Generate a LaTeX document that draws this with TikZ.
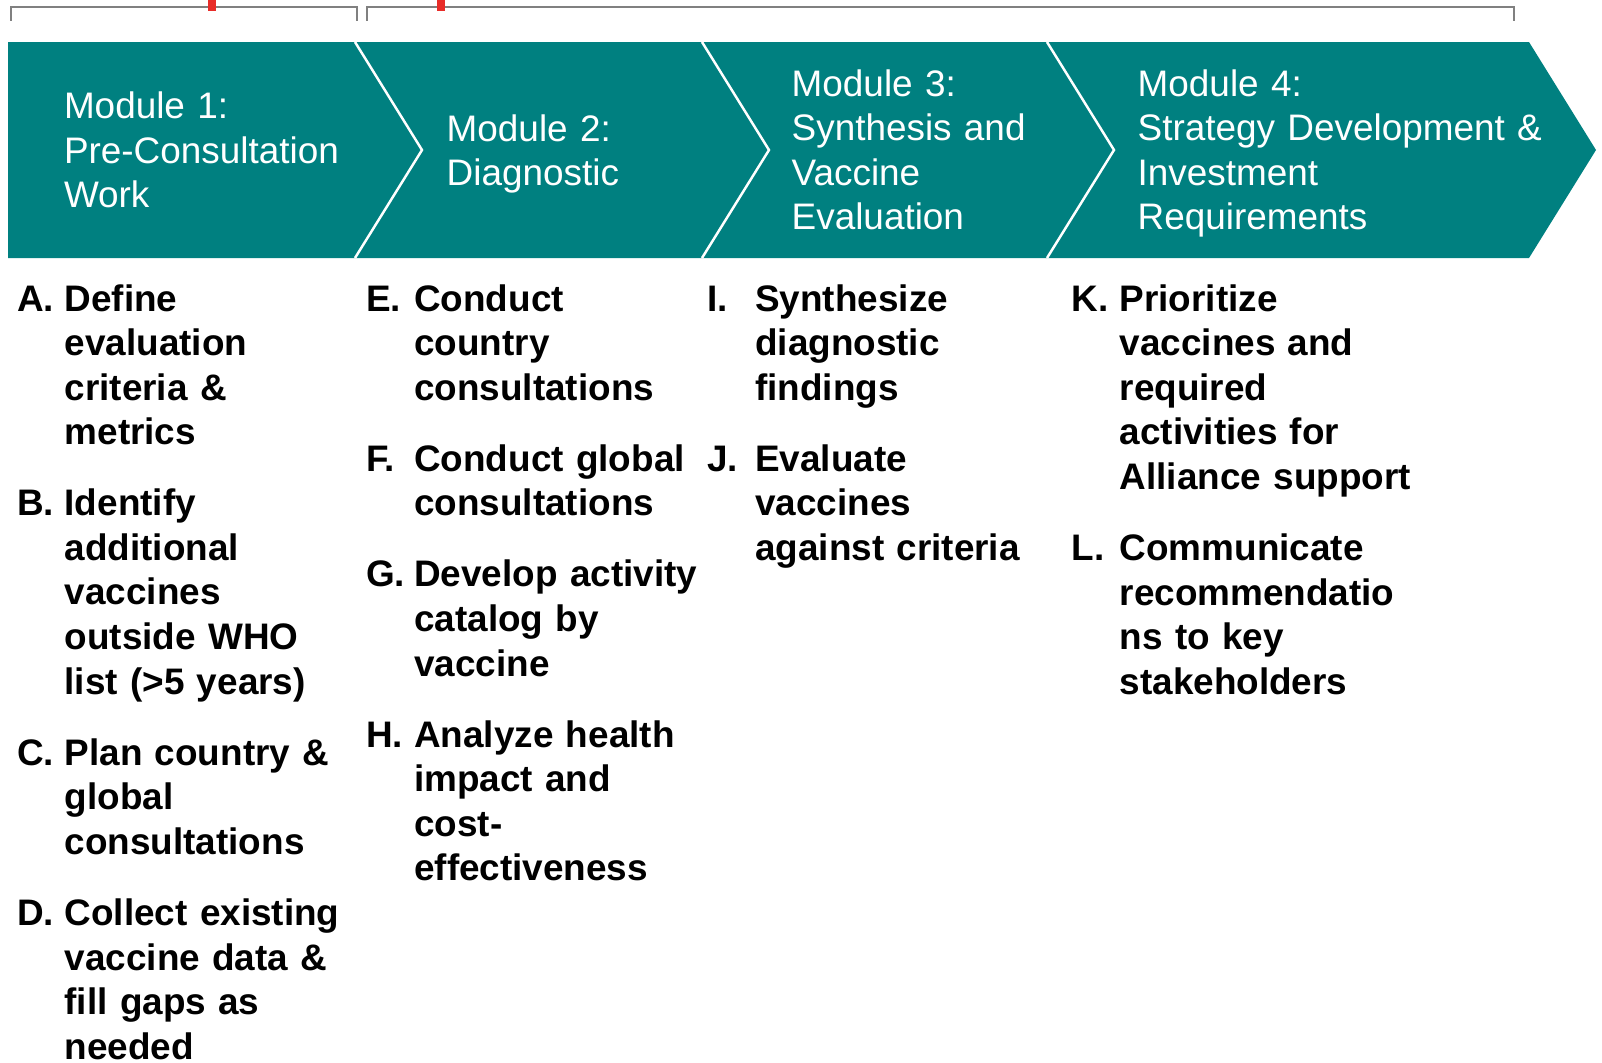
\documentclass[tikz,border=0pt]{standalone}
\usepackage{fontspec}
\setmainfont{Liberation Sans}
\definecolor{modteal}{RGB}{0,128,128}
\definecolor{markred}{RGB}{232,44,40}
\tikzset{
  module/.style={anchor=base west,inner sep=0,text=white,align=left,text width=4.4cm,
    font=\fontsize{10.5pt}{12.7pt}\selectfont},
  task/.style={anchor=base west,inner sep=0,align=left,text width=3.4cm,
    font=\fontsize{10.5pt}{12.7pt}\selectfont\bfseries},
  tasklabel/.style={anchor=base west,inner sep=0,font=\fontsize{10.5pt}{12.7pt}\selectfont\bfseries},
  bracket/.style={draw=gray,line width=0.6pt},
  sep/.style={draw=white,line width=0.7pt}
}
\begin{document}
\begin{tikzpicture}
\useasboundingbox (0,0) rectangle (16.02,-10.62);

% brackets over the modules
\path[bracket] (0.11,-0.207) -- (0.11,-0.073) -- (3.57,-0.073) -- (3.57,-0.207);
\path[bracket] (3.67,-0.207) -- (3.67,-0.073) -- (15.14,-0.073) -- (15.14,-0.207);
\draw[markred,line width=2pt] (2.12,0) -- (2.12,-0.11);
\draw[markred,line width=2pt] (4.41,0) -- (4.41,-0.11);

% chevron band
\fill[modteal] (0.08,-0.42) -- (15.29,-0.42) -- (15.29+0.67,-1.50) -- (15.29,-2.58) -- (0.08,-2.58) -- cycle;
\path[sep] (3.55,-0.42) -- (3.55+0.67,-1.50) -- (3.55,-2.58);
\path[sep] (7.02,-0.42) -- (7.02+0.67,-1.50) -- (7.02,-2.58);
\path[sep] (10.47,-0.42) -- (10.47+0.67,-1.50) -- (10.47,-2.58);

\node[module] (m1) at (0.633,-1.185) {Module 1:\\Pre-Consultation\\Work};
\node[module] (m2) at (4.46,-1.41) {Module 2:\\Diagnostic};
\node[module] (m3) at (7.91,-0.96) {Module 3:\\Synthesis and\\Vaccine\\Evaluation};
\node[module] (m4) at (11.37,-0.96) {Module 4:\\Strategy Development \&\\Investment\\Requirements};

% module 1 tasks
\node[task] (tA) at (0.64,-3.11) {Define\\evaluation\\criteria \&\\metrics};
\node[task] (tB) at (0.64,-5.155) {Identify\\additional\\vaccines\\outside WHO\\list (>5 years)};
\node[task] (tC) at (0.64,-7.653) {Plan country \&\\global\\consultations};
\node[task] (tD) at (0.64,-9.255) {Collect existing\\vaccine data \&\\fill gaps as\\needed};
\node[tasklabel] (lA) at ([xshift=-0.477cm]tA.base west) {A.};
\node[tasklabel] (lB) at ([xshift=-0.477cm]tB.base west) {B.};
\node[tasklabel] (lC) at ([xshift=-0.477cm]tC.base west) {C.};
\node[tasklabel] (lD) at ([xshift=-0.477cm]tD.base west) {D.};

% module 2 tasks
\node[task] (tE) at (4.135,-3.11) {Conduct\\country\\consultations};
\node[task] (tF) at (4.135,-4.712) {Conduct global\\consultations};
\node[task] (tG) at (4.135,-5.868) {Develop activity\\catalog by\\vaccine};
\node[task] (tH) at (4.135,-7.47) {Analyze health\\impact and\\cost-\\effectiveness};
\node[tasklabel] (lE) at ([xshift=-0.48cm]tE.base west) {E.};
\node[tasklabel] (lF) at ([xshift=-0.48cm]tF.base west) {F.};
\node[tasklabel] (lG) at ([xshift=-0.48cm]tG.base west) {G.};
\node[tasklabel] (lH) at ([xshift=-0.48cm]tH.base west) {H.};

% module 3 tasks
\node[task] (tI) at (7.545,-3.11) {Synthesize\\diagnostic\\findings};
\node[task] (tJ) at (7.545,-4.712) {Evaluate\\vaccines\\against criteria};
\node[tasklabel] (lI) at ([xshift=-0.48cm]tI.base west) {I.};
\node[tasklabel] (lJ) at ([xshift=-0.48cm]tJ.base west) {J.};

% module 4 tasks
\node[task] (tK) at (11.19,-3.11) {Prioritize\\vaccines and\\required\\activities for\\Alliance support};
\node[task] (tL) at (11.19,-5.604) {Communicate\\recommendatio\\ns to key\\stakeholders};
\node[tasklabel] (lK) at ([xshift=-0.48cm]tK.base west) {K.};
\node[tasklabel] (lL) at ([xshift=-0.48cm]tL.base west) {L.};
\end{tikzpicture}
\end{document}
